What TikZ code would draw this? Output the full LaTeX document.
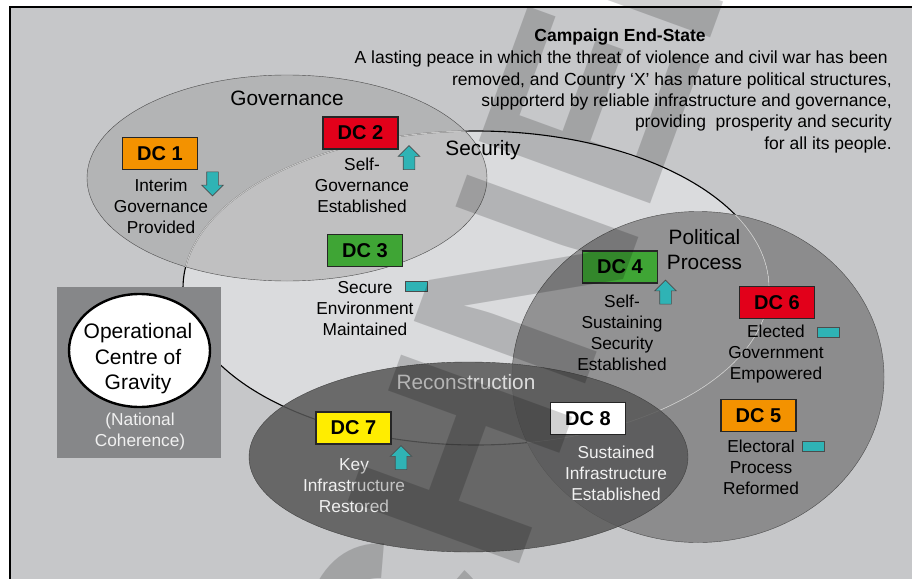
\documentclass[tikz,border=0pt]{standalone}
\usepackage{fontspec}
\setmainfont{Liberation Sans}
\usetikzlibrary{positioning, shapes.geometric, shapes.arrows}

\definecolor{bgGray}{HTML}{C6C7C9}
\definecolor{secFill}{HTML}{DADBDD}
\definecolor{govGray}{HTML}{969696}
\definecolor{polGray}{HTML}{747474}
\definecolor{recGray}{HTML}{575757}
\definecolor{opGray}{HTML}{868789}
\definecolor{dcOrange}{HTML}{F39200}
\definecolor{dcRed}{HTML}{E2001A}
\definecolor{dcGreen}{HTML}{3FA535}
\definecolor{dcYellow}{HTML}{FFED00}
\definecolor{trendTeal}{HTML}{2FB3B5}
\definecolor{paleText}{HTML}{F0F0F0}
\definecolor{recText}{HTML}{DCDCDC}

\begin{document}
\begin{tikzpicture}[x=1pt, y=-1pt,
  dcbox/.style={draw=black!85, line width=1.2pt, minimum width=75pt, minimum height=32pt, inner sep=0pt, font=\fontsize{20}{24}\selectfont\bfseries},
  lbl/.style={align=center, inner sep=0pt, font=\fontsize{17.3}{21}\selectfont},
  ttl/.style={align=center, inner sep=0pt, font=\fontsize{20.8}{25}\selectfont},
  trend/.style={single arrow, draw=black!70, fill=trendTeal, line width=0.6pt, inner xsep=0pt, inner ysep=5.5pt, single arrow head extend=5pt, minimum height=24pt},
  flat/.style={draw=black!70, fill=trendTeal, line width=0.6pt, minimum width=22pt, minimum height=10pt, inner sep=0pt}]
  \useasboundingbox (0,0) rectangle (912,578);
  \draw[line width=2pt, fill=bgGray] (10,7) rectangle (940,600);

  % the four lines of effort
  \draw[fill=secFill, line width=1.1pt] (476,288) ellipse [x radius=293pt, y radius=157pt];
  \draw[draw=black!70, fill=govGray, fill opacity=0.38] (287,178) ellipse [x radius=200pt, y radius=103pt];
  \draw[draw=black!70, fill=polGray, fill opacity=0.7] (698,377) ellipse [x radius=186pt, y radius=165.5pt];
  \begin{scope}
    \clip (287,178) ellipse [x radius=200pt, y radius=103pt] (698,377) ellipse [x radius=186pt, y radius=165.5pt];
    \draw[white!55!gray, line width=1.1pt] (476,288) ellipse [x radius=293pt, y radius=157pt];
  \end{scope}
  \draw[draw=black!75, fill=recGray, fill opacity=0.85] (468.5,457) ellipse [x radius=219.5pt, y radius=95pt];

  \node[ttl] (govtitle) at (287,98) {Governance};
  \node[ttl] (sectitle) at (483,150) {Security};
  \node[ttl] (poltitle) at (704.5,250) {Political\\Process};
  \node[ttl, text=recText] (rectitle) at (466,382) {Reconstruction};

  % centre of gravity
  \node[fill=opGray, minimum width=164pt, minimum height=171pt, inner sep=0pt] (opbox) at (139,372.5) {};
  \node[ellipse, draw, line width=2.4pt, fill=white, minimum width=141pt, minimum height=113pt] (cog) at (139.5,350.5) {};
  \node[align=center, inner sep=0pt, font=\fontsize{21}{25.5}\selectfont] (cogname) at (138,359) {Operational\\Centre of\\Gravity};
  \node[lbl, text=paleText] (natcoh) at (140,432) {(National\\Coherence)};

  % decisive conditions
  \node[dcbox, fill=dcOrange] (dc1) at (160,153.5) {DC 1};
  \node[dcbox, fill=dcRed] (dc2) at (360.5,133) {DC 2};
  \node[dcbox, fill=dcGreen] (dc3) at (365,250.5) {DC 3};
  \node[dcbox, fill=dcGreen] (dc4) at (620,267) {DC 4};
  \node[dcbox, fill=dcOrange] (dc5) at (758.5,415.5) {DC 5};
  \node[dcbox, fill=dcRed] (dc6) at (777,302.5) {DC 6};
  \node[dcbox, fill=dcYellow] (dc7) at (353.5,428) {DC 7};
  \node[dcbox, fill=white] (dc8) at (588,418.5) {DC 8};

  \node[lbl] (dc1lbl) at (161,206) {Interim\\Governance\\Provided};
  \node[lbl] (dc2lbl) at (362,185) {Self-\\Governance\\Established};
  \node[lbl] (dc3lbl) at (365,309) {Secure\\Environment\\Maintained};
  \node[lbl] (dc4lbl) at (622,333) {Self-\\Sustaining\\Security\\Established};
  \node[lbl] (dc5lbl) at (761,467) {Electoral\\Process\\Reformed};
  \node[lbl] (dc6lbl) at (776,354) {Elected\\Government\\Empowered};
  \node[lbl, text=paleText] (dc7lbl) at (354,486) {Key\\Infrastructure\\Restored};
  \node[lbl, text=paleText] (dc8lbl) at (616,473) {Sustained\\Infrastructure\\Established};

  % trends
  \node[trend, rotate=-90] (dc1trend) at (212.5,181) {};
  \node[trend, rotate=90] (dc2trend) at (409,160.5) {};
  \node[trend, rotate=90] (dc4trend) at (665.5,295) {};
  \node[trend, rotate=90] (dc7trend) at (401,460.5) {};
  \node[flat] (dc3trend) at (416.5,286.5) {};
  \node[flat] (dc6trend) at (828,332) {};
  \node[flat] (dc5trend) at (813,446.5) {};

  % end-state
  \node[inner sep=0pt, font=\fontsize{17.5}{21}\selectfont\bfseries] (endhead) at (620,37) {Campaign End-State};
  \node[anchor=east, align=right, inner sep=0pt, font=\fontsize{17.5}{21.3}\selectfont] (endtext) at (892,102) {A lasting peace in which the threat of violence and civil war has been\hspace*{4pt}\\removed, and Country ‘X’ has mature political structures,\\supporterd by reliable infrastructure and governance,\\providing~ prosperity and security\\for all its people.};

  % watermark
  \begin{scope}
    \clip (0,0) rectangle (912,578);
    \node[rotate=70, anchor=base west, inner sep=0pt, text=black, text opacity=0.18, font=\fontsize{265}{265}\selectfont\bfseries] (stamp) at (387.6,926.4) {SCHNEIDER};
  \end{scope}
\end{tikzpicture}
\end{document}
